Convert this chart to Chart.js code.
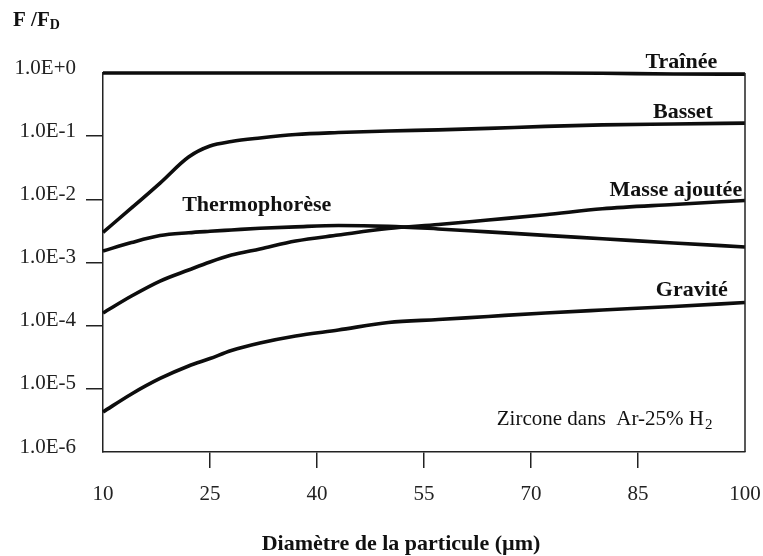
<!DOCTYPE html>
<html>
<head>
<meta charset="utf-8">
<script src="https://cdn.jsdelivr.net/npm/chart.js@4.4.1/dist/chart.umd.min.js"></script>
<style>
  html, body { margin: 0; padding: 0; background: #fff; }
</style>
</head>
<body>
<canvas id="forces" width="763" height="556"></canvas>
<script>
// diamètre de la particule (µm) et rapports F/FD
const diametres = [10, 14, 18, 22, 25, 28, 32, 37, 43, 50, 57, 64, 72, 80, 90, 100];
const trainee = [1, 1, 1, 1, 1, 1, 1, 1, 1, 1, 1, 1, 1, 0.99, 0.965, 0.96];
const basset = [3.0e-3, 7.3e-3, 1.81e-2, 4.68e-2, 6.98e-2, 8.22e-2, 9.35e-2, 0.106, 0.114, 0.121, 0.126, 0.133, 0.143, 0.151, 0.156, 0.161];
const thermophorese = [1.52e-3, 2.07e-3, 2.67e-3, 2.96e-3, 3.12e-3, 3.27e-3, 3.48e-3, 3.67e-3, 3.85e-3, 3.73e-3, 3.40e-3, 3.05e-3, 2.69e-3, 2.38e-3, 2.04e-3, 1.76e-3];
const masseAjoutee = [1.59e-4, 2.95e-4, 5.09e-4, 7.61e-4, 1.02e-3, 1.31e-3, 1.64e-3, 2.19e-3, 2.72e-3, 3.45e-3, 3.99e-3, 4.71e-3, 5.7e-3, 7.1e-3, 8.3e-3, 9.6e-3];
const gravite = [4.3e-6, 8.3e-6, 1.46e-5, 2.3e-5, 3.02e-5, 4.04e-5, 5.31e-5, 6.86e-5, 8.54e-5, 1.12e-4, 1.25e-4, 1.40e-4, 1.59e-4, 1.77e-4, 2.01e-4, 2.33e-4];

const xTicks = [10, 25, 40, 55, 70, 85, 100];
const yTicks = [1e-6, 1e-5, 1e-4, 1e-3, 1e-2, 1e-1, 1];
const yTickLabels = ["1.0E-6", "1.0E-5", "1.0E-4", "1.0E-3", "1.0E-2", "1.0E-1", "1.0E+0"];

// étiquettes des courbes, placées en coordonnées des données
const notes = [
    { text: "Traînée", x: 96.1, y: 1.22, align: "right", bold: true },
    { text: "Basset", x: 95.5, y: 0.197, align: "right", bold: true },
    { text: "Masse ajoutée", x: 99.6, y: 0.0113, align: "right", bold: true },
    { text: "Thermophorèse", x: 21.1, y: 6.65e-3, align: "left", bold: true },
    { text: "Gravité", x: 97.6, y: 2.9e-4, align: "right", bold: true },
    { text: "Zircone dans  Ar-25% H", sub: "2", x: 65.2, y: 2.63e-6, align: "left", bold: false }
];

const SERIF = "'Liberation Serif', 'Times New Roman', serif";

function toPoints(values) {
    return diametres.map((d, i) => ({ x: d, y: values[i] }));
}

function hideEnds(first, last) {
    return (c) => (c.tick && (c.tick.value === first || c.tick.value === last)) ? "rgba(0,0,0,0)" : "#222";
}

/* ===================== TEXTES ===================== */
const textes = {
    id: "textes",
    afterDatasetsDraw(chart) {
        const { ctx, chartArea, scales } = chart;
        ctx.save();

        // bord droit du cadre
        ctx.strokeStyle = "#222";
        ctx.lineWidth = 1.5;
        ctx.beginPath();
        ctx.moveTo(chartArea.right, chartArea.top);
        ctx.lineTo(chartArea.right, chartArea.bottom);
        ctx.stroke();

        ctx.fillStyle = "#111";
        ctx.textBaseline = "alphabetic";

        notes.forEach((n) => {
            const px = scales.x.getPixelForValue(n.x);
            const py = scales.y.getPixelForValue(n.y);
            ctx.font = (n.bold ? "bold 22px " : "21px ") + SERIF;
            let w = ctx.measureText(n.text).width;
            let subW = 0;
            if (n.sub) {
                ctx.font = "15px " + SERIF;
                subW = ctx.measureText(n.sub).width;
                ctx.font = (n.bold ? "bold 22px " : "21px ") + SERIF;
            }
            const left = n.align === "right" ? px - w - subW : px;
            ctx.textAlign = "left";
            ctx.fillText(n.text, left, py);
            if (n.sub) {
                ctx.font = "15px " + SERIF;
                ctx.fillText(n.sub, left + w + 1, py + 4);
            }
        });

        // titre de l'axe vertical
        ctx.textAlign = "left";
        ctx.font = "bold 21px " + SERIF;
        ctx.fillText("F /F", 13, 26);
        const fw = ctx.measureText("F /F").width;
        ctx.font = "bold 14px " + SERIF;
        ctx.fillText("D", 13 + fw, 29);

        // titre de l'axe horizontal
        ctx.textAlign = "center";
        ctx.font = "bold 22px " + SERIF;
        ctx.fillText("Diamètre de la particule (µm)", 401, 550);

        ctx.restore();
    }
};

const serie = (values, label) => ({
    label,
    data: toPoints(values),
    borderColor: "#0d0d0d",
    borderWidth: 3.6,
    pointRadius: 0,
    cubicInterpolationMode: "monotone",
    clip: false
});

new Chart(document.getElementById("forces"), {
    type: "line",
    data: {
        datasets: [
            serie(trainee, "Traînée"),
            serie(basset, "Basset"),
            serie(masseAjoutee, "Masse ajoutée"),
            serie(thermophorese, "Thermophorèse"),
            serie(gravite, "Gravité")
        ]
    },
    options: {
        responsive: false,
        animation: false,
        layout: { padding: { top: 73, right: 18, left: 0, bottom: 0 } },
        plugins: {
            legend: { display: false },
            tooltip: { enabled: false }
        },
        scales: {
            x: {
                type: "linear",
                min: 10,
                max: 100,
                afterBuildTicks: (s) => { s.ticks = xTicks.map((v) => ({ value: v })); },
                afterFit: (s) => {
                    s.height = 104;
                    s.paddingLeft = 0;
                    s.paddingRight = 0;
                },
                border: { color: "#222", width: 1.5 },
                grid: { drawOnChartArea: false, tickLength: 16, lineWidth: 1.5, color: hideEnds(10, 100) },
                ticks: {
                    font: { family: SERIF, size: 21 },
                    color: "#222",
                    padding: 14,
                    maxRotation: 0,
                    autoSkip: false
                }
            },
            y: {
                type: "logarithmic",
                min: 1e-6,
                max: 1,
                afterBuildTicks: (s) => { s.ticks = yTicks.map((v) => ({ value: v })); },
                afterFit: (s) => {
                    s.width = 103;
                    s.paddingTop = 0;
                    s.paddingBottom = 0;
                },
                border: { color: "#222", width: 1.5 },
                grid: { drawOnChartArea: false, tickLength: 17, lineWidth: 1.5, color: hideEnds(1e-6, 1) },
                ticks: {
                    font: { family: SERIF, size: 21 },
                    color: "#222",
                    padding: 10,
                    labelOffset: -5,
                    autoSkip: false,
                    callback: (v, i) => yTickLabels[i]
                }
            }
        }
    },
    plugins: [textes]
});
</script>
</body>
</html>
